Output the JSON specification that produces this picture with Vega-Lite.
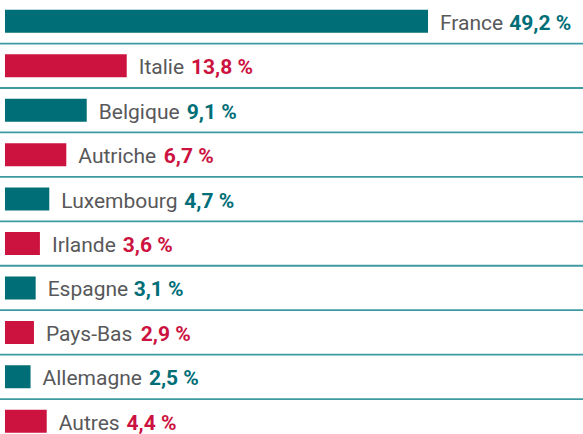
{
  "$schema": "https://vega.github.io/schema/vega-lite/v6.json",
  "width": 583,
  "height": 434,
  "autosize": {"type": "none"},
  "padding": 0,
  "background": "white",
  "config": {"view": {"stroke": null}},
  "data": {
    "values": [
      {"rang": 0, "pays": "France", "part": 49.2, "etiquette": "France 49,2 %", "groupe": "a"},
      {"rang": 1, "pays": "Italie", "part": 13.8, "etiquette": "Italie 13,8 %", "groupe": "b"},
      {"rang": 2, "pays": "Belgique", "part": 9.1, "etiquette": "Belgique 9,1 %", "groupe": "a"},
      {"rang": 3, "pays": "Autriche", "part": 6.7, "etiquette": "Autriche 6,7 %", "groupe": "b"},
      {"rang": 4, "pays": "Luxembourg", "part": 4.7, "etiquette": "Luxembourg 4,7 %", "groupe": "a"},
      {"rang": 5, "pays": "Irlande", "part": 3.6, "etiquette": "Irlande 3,6 %", "groupe": "b"},
      {"rang": 6, "pays": "Espagne", "part": 3.1, "etiquette": "Espagne 3,1 %", "groupe": "a"},
      {"rang": 7, "pays": "Pays-Bas", "part": 2.9, "etiquette": "Pays-Bas 2,9 %", "groupe": "b"},
      {"rang": 8, "pays": "Allemagne", "part": 2.5, "etiquette": "Allemagne 2,5 %", "groupe": "a"},
      {"rang": 9, "pays": "Autres", "part": 4.4, "etiquette": "Autres 4,4 %", "groupe": "b"}
    ]
  },
  "encoding": {
    "y": {"field": "rang", "type": "quantitative", "axis": null, "scale": {"domain": [-0.4804, 9.2855], "reverse": true, "zero": false, "nice": false, "padding": 0}}
  },
  "layer": [
    {
      "mark": {"type": "rule", "color": "#3e9aa1", "strokeWidth": 1.8, "yOffset": 22.2},
      "encoding": {}
    },
    {
      "mark": {"type": "bar", "orient": "horizontal", "height": 23},
      "encoding": {
        "x": {"field": "part", "type": "quantitative", "axis": null, "scale": {"domain": [-1.09, 67.41], "zero": false, "nice": false, "padding": 0}},
        "x2": {"datum": -0.505},
        "color": {"field": "groupe", "type": "nominal", "legend": null, "scale": {"domain": ["a", "b"], "range": ["#006e77", "#cc123f"]}}
      }
    },
    {
      "mark": {"type": "text", "align": "left", "baseline": "alphabetic", "dx": 12, "dy": 8.5, "font": "Roboto", "fontSize": 21, "fontWeight": "bold"},
      "encoding": {
        "x": {"field": "part", "type": "quantitative"},
        "text": {"field": "etiquette"},
        "color": {"field": "groupe", "type": "nominal", "legend": null}
      }
    },
    {
      "mark": {"type": "text", "align": "left", "baseline": "alphabetic", "dx": 12, "dy": 8.5, "font": "Roboto", "fontSize": 21, "fontWeight": "bold", "fill": "white", "stroke": "white", "strokeWidth": 2.5},
      "encoding": {
        "x": {"field": "part", "type": "quantitative"},
        "text": {"field": "pays"}
      }
    },
    {
      "mark": {"type": "text", "align": "left", "baseline": "alphabetic", "dx": 12, "dy": 8.5, "font": "Roboto", "fontSize": 21, "fontWeight": "normal", "color": "#58585a"},
      "encoding": {
        "x": {"field": "part", "type": "quantitative"},
        "text": {"field": "pays"}
      }
    }
  ]
}
